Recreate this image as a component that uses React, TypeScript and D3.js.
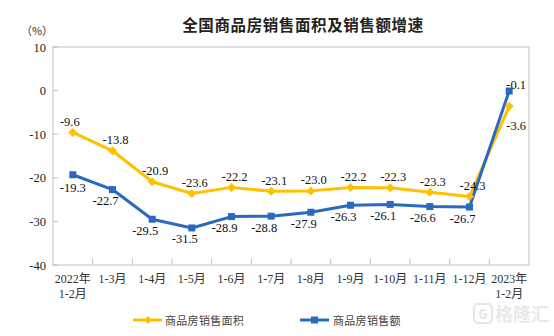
import React from "react";
import * as d3 from "d3";

const categories = ["2022年|1-2月", "1-3月", "1-4月", "1-5月", "1-6月", "1-7月", "1-8月", "1-9月", "1-10月", "1-11月", "1-12月", "2023年|1-2月"];
const areaGrowth = [-9.6, -13.8, -20.9, -23.6, -22.2, -23.1, -23.0, -22.2, -22.3, -23.3, -24.3, -3.6];
const salesGrowth = [-19.3, -22.7, -29.5, -31.5, -28.9, -28.8, -27.9, -26.3, -26.1, -26.6, -26.7, -0.1];
const yTicks = [10, 0, -10, -20, -30, -40];
const seriesNames = ["商品房销售面积", "商品房销售额"];
const title = "全国商品房销售面积及销售额增速";

const W = 554, H = 336;
const M = { left: 53, right: 529, top: 47, bottom: 265 };
const YELLOW = "#FFC000";
const BLUE = "#2A69C0";
const SERIF = "'Liberation Serif', 'Times New Roman', 'Noto Sans CJK SC', serif";
const CJK = "'Noto Sans CJK SC', sans-serif";

export default function App() {
  const x = d3.scaleBand<string>().domain(categories).range([M.left, M.right]);
  const y = d3.scaleLinear().domain([-40, 10]).range([M.bottom, M.top]);
  const cx = (i: number) => (x(categories[i]) as number) + x.bandwidth() / 2;
  const line = d3.line<number>().x((_, i) => cx(i)).y((d) => y(d));
  const last = categories.length - 1;

  const yellowOff = (i: number) => (i === 0 ? [-3, -11] : i === last ? [7, 19] : [3, -11]);
  const blueOff = (i: number) => (i === 0 ? [0, 13] : i === last ? [7, -7] : [-7, 11]);

  const diamond = (px: number, py: number, r = 4.5) =>
    `M${px},${py - r}L${px + r},${py}L${px},${py + r}L${px - r},${py}Z`;

  return (
    <svg width={W} height={H} style={{ position: "absolute", left: 0, top: 0, background: "#fff" }}>
      <text x={303} y={31} textAnchor="middle" fontFamily={CJK} fontSize={15.5} fontWeight={600} fill="#222" letterSpacing={0.6}>
        {title}
      </text>
      <text x={37} y={35} textAnchor="middle" fontFamily={CJK} fontSize={11} fill="#333">（%）</text>

      {/* plot box */}
      <rect x={M.left} y={M.top} width={M.right - M.left} height={M.bottom - M.top} fill="none" stroke="#bfbfbf" strokeWidth={1} />

      {/* y ticks */}
      {yTicks.map((t) => (
        <g key={t}>
          <line x1={M.left} x2={M.left + 5} y1={y(t)} y2={y(t)} stroke="#bfbfbf" />
          <text x={46} y={y(t) + 4.5} textAnchor="end" fontFamily={SERIF} fontSize={12.5} fill="#222">{t}</text>
        </g>
      ))}

      {/* x ticks */}
      {categories.slice(1).map((c) => (
        <line key={c} x1={x(c)} x2={x(c)} y1={M.bottom} y2={M.bottom - 6} stroke="#bfbfbf" />
      ))}
      {categories.map((c, i) => {
        const parts = c.split("|");
        return (
          <text key={c} x={cx(i)} y={283} textAnchor="middle" fontFamily={SERIF} fontSize={12} fill="#333">
            {parts.map((p, k) => (
              <tspan key={k} x={cx(i)} dy={k === 0 ? 0 : 15}>{p}</tspan>
            ))}
          </text>
        );
      })}

      {/* lines */}
      <path d={line(areaGrowth) as string} fill="none" stroke={YELLOW} strokeWidth={3} strokeLinejoin="round" />
      <path d={line(salesGrowth) as string} fill="none" stroke={BLUE} strokeWidth={3} strokeLinejoin="round" />

      {areaGrowth.map((v, i) => (
        <path key={"ym" + i} d={diamond(cx(i), y(v))} fill={YELLOW} />
      ))}
      {salesGrowth.map((v, i) => (
        <rect key={"bm" + i} x={cx(i) - 3.5} y={y(v) - 3.5} width={7} height={7} fill={BLUE} />
      ))}

      {/* labels */}
      {areaGrowth.map((v, i) => {
        const [dx, dy] = yellowOff(i);
        return (
          <text key={"yl" + i} x={cx(i) + dx} y={y(v) + dy + 4.5} textAnchor="middle" fontFamily={SERIF} fontSize={12.5} fill="#111">
            {v.toFixed(1)}
          </text>
        );
      })}
      {salesGrowth.map((v, i) => {
        const [dx, dy] = blueOff(i);
        return (
          <text key={"bl" + i} x={cx(i) + dx} y={y(v) + dy + 4.5} textAnchor="middle" fontFamily={SERIF} fontSize={12.5} fill="#111">
            {v.toFixed(1)}
          </text>
        );
      })}

      {/* legend */}
      <g>
        <line x1={133} x2={162} y1={320} y2={320} stroke={YELLOW} strokeWidth={3} />
        <path d={diamond(148, 320, 4)} fill={YELLOW} />
        <text x={165} y={324.5} fontFamily={CJK} fontSize={11} fill="#444" letterSpacing={0.3}>{seriesNames[0]}</text>
        <line x1={300} x2={329} y1={320} y2={320} stroke={BLUE} strokeWidth={3} />
        <rect x={311} y={316.5} width={7} height={7} fill={BLUE} />
        <text x={333} y={324.5} fontFamily={CJK} fontSize={11} fill="#444" letterSpacing={0.3}>{seriesNames[1]}</text>
      </g>

      {/* watermark */}
      <g opacity={0.6}>
        <rect x={474} y={304} width={18} height={19} rx={4} fill="none" stroke="#d4d4d4" strokeWidth={2} />
        <text x={483} y={319} textAnchor="middle" fontFamily={CJK} fontSize={13} fontWeight={700} fill="#d4d4d4">G</text>
        <text x={495} y={321} fontFamily={CJK} fontSize={18} fontWeight={700} fill="#dcdcdc">格隆汇</text>
      </g>
    </svg>
  );
}
